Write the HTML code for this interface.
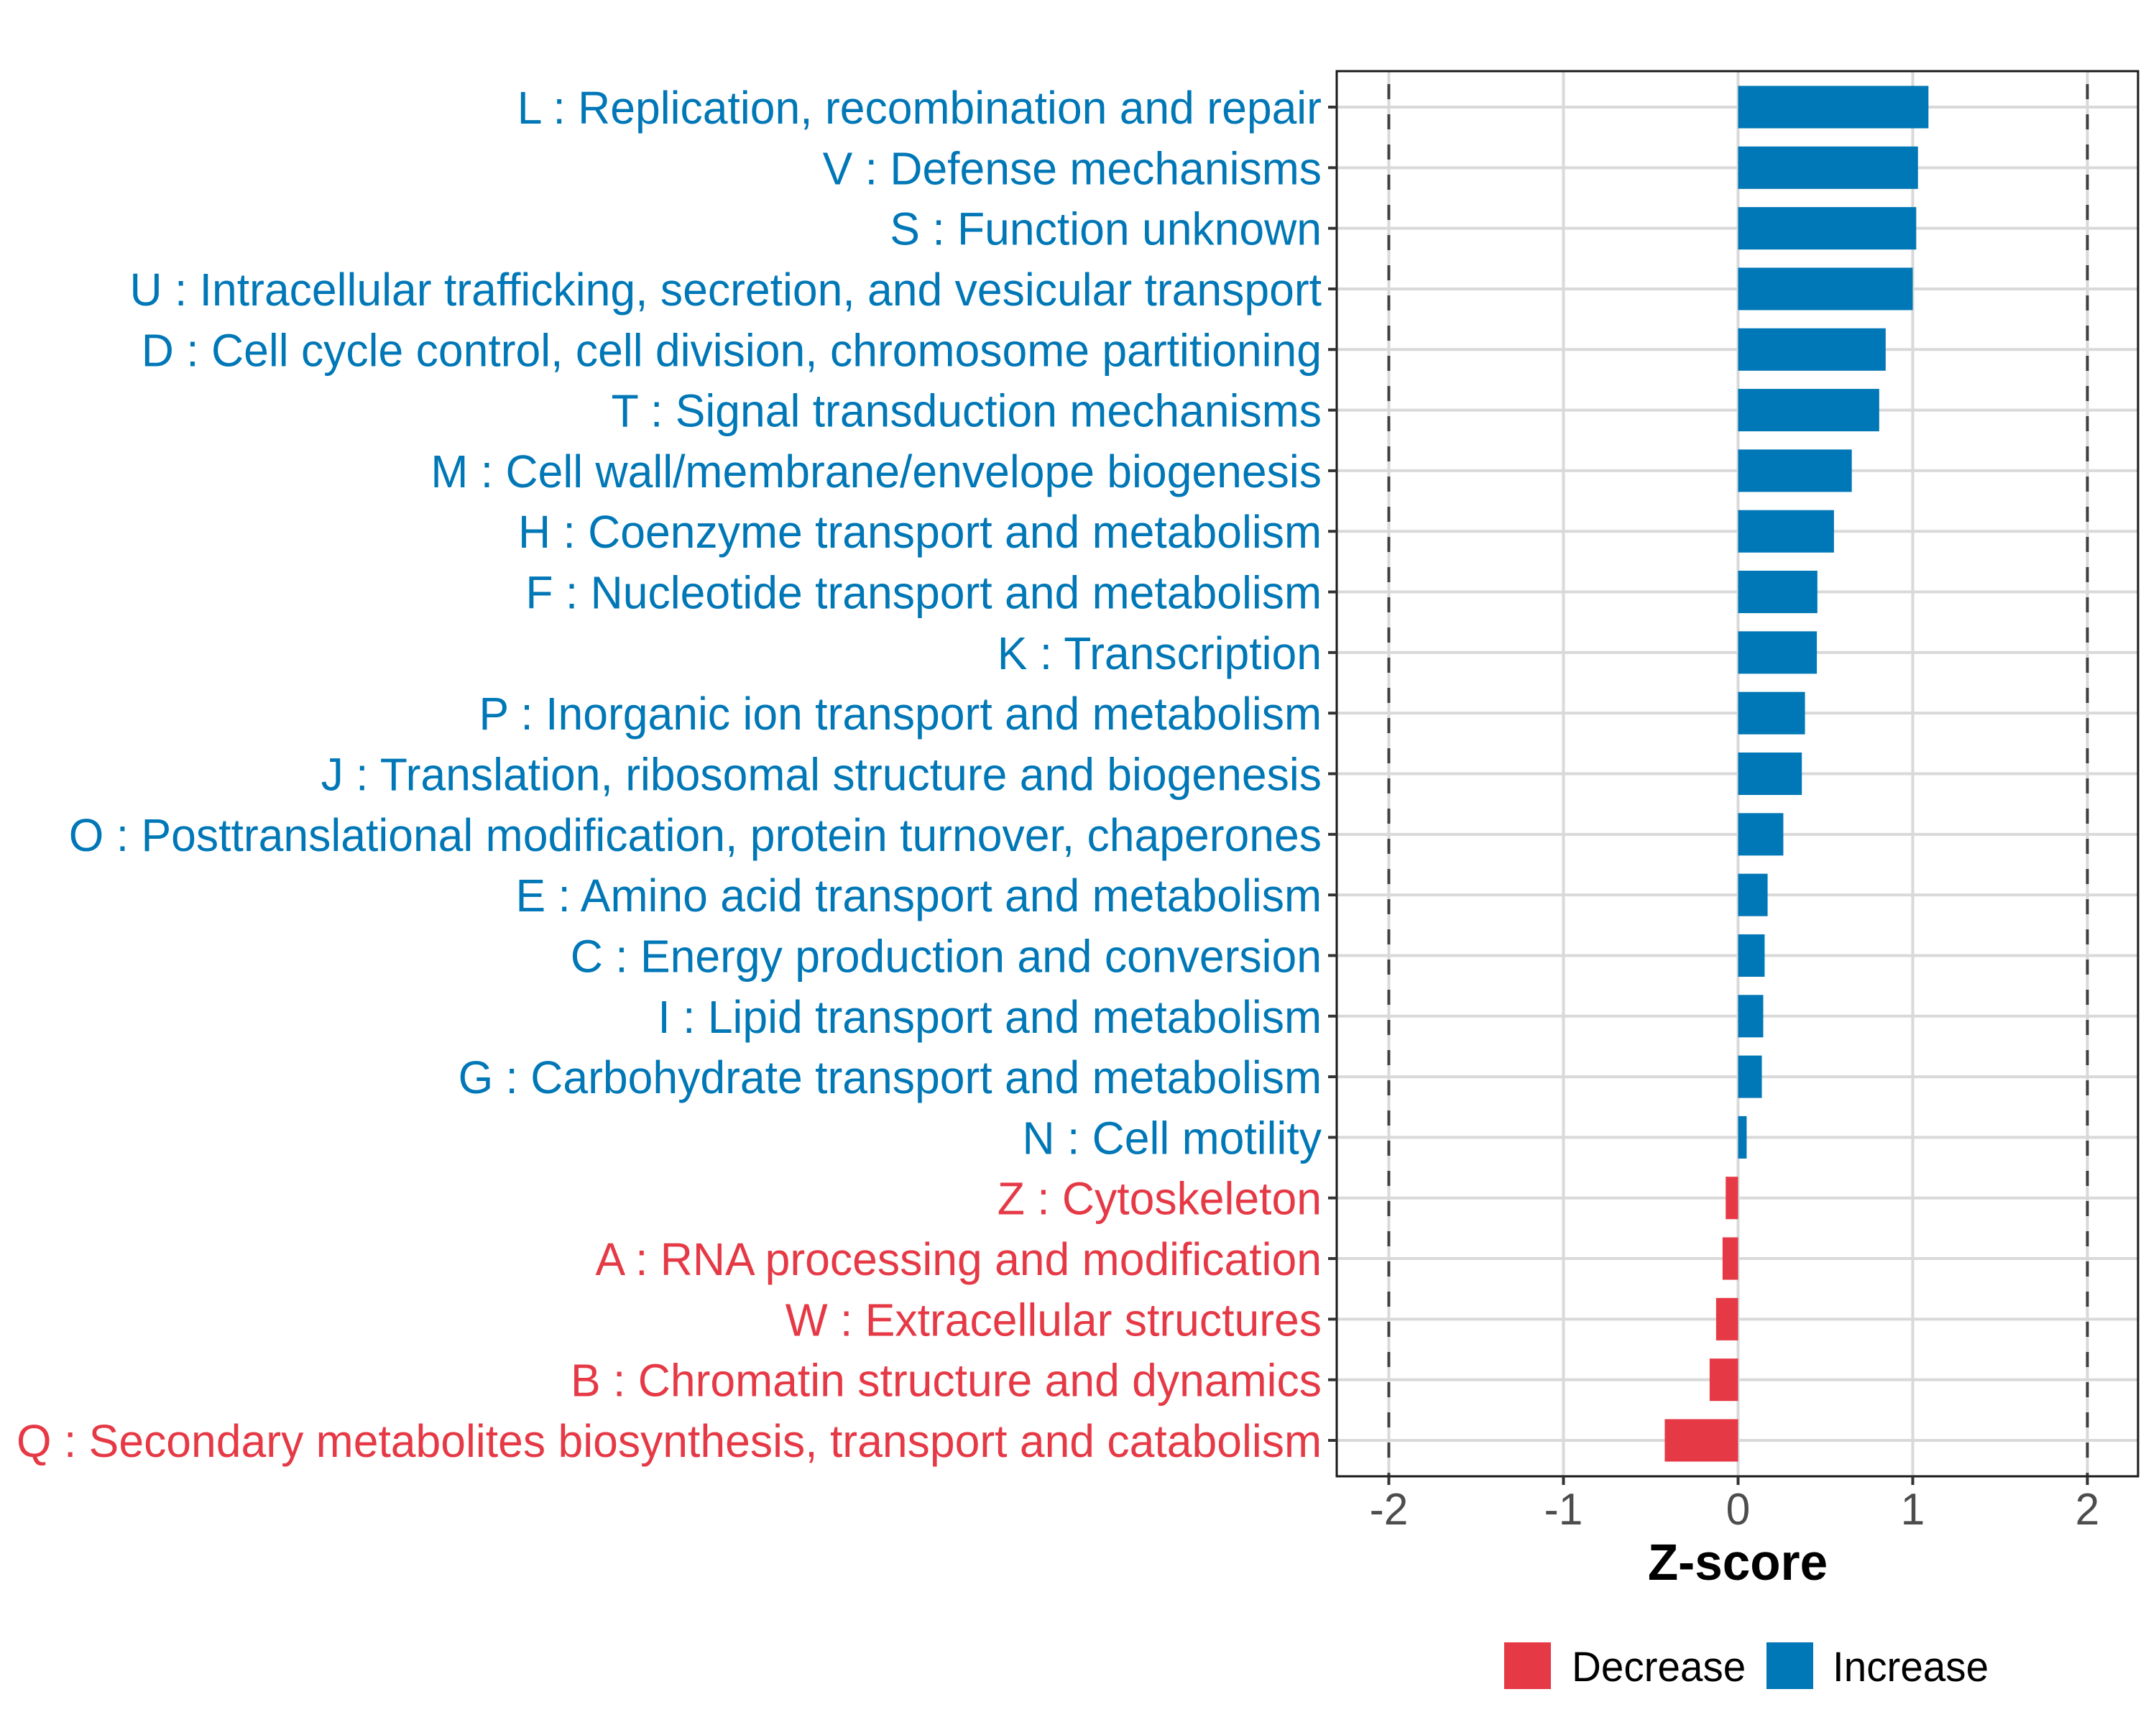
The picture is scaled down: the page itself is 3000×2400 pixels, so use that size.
<!DOCTYPE html>
<html><head><meta charset="utf-8">
<style>
html,body{margin:0;padding:0;background:#fff;}
svg{display:block;}
text{font-family:"Liberation Sans",Arial,sans-serif;}
</style></head>
<body>
<svg id="chart" width="3000" height="2400" viewBox="0 0 3000 2400" xmlns="http://www.w3.org/2000/svg">
  <rect x="0" y="0" width="3000" height="2400" fill="#fff"/>
  <g id="grid"></g>
  <g id="refs"></g>
  <g id="bars"></g>
  <rect x="1860" y="99" width="1115" height="1955" fill="none" stroke="#1a1a1a" stroke-width="3"/>
  <g id="yaxis"></g>
  <g id="xaxis"></g>
  <text id="xtitle" x="2418" y="2198" text-anchor="middle" font-size="71" font-weight="bold" fill="#000">Z-score</text>
  <g>
    <rect x="2093" y="2285" width="65" height="65" fill="#E63946"/>
    <text id="lg1" x="2187" y="2339" font-size="58" fill="#000">Decrease</text>
    <rect x="2458" y="2285" width="65" height="65" fill="#0077B6"/>
    <text id="lg2" x="2550" y="2339" font-size="58" fill="#000">Increase</text>
  </g>
</svg>
<script>
const categories = [
"L : Replication, recombination and repair",
"V : Defense mechanisms",
"S : Function unknown",
"U : Intracellular trafficking, secretion, and vesicular transport",
"D : Cell cycle control, cell division, chromosome partitioning",
"T : Signal transduction mechanisms",
"M : Cell wall/membrane/envelope biogenesis",
"H : Coenzyme transport and metabolism",
"F : Nucleotide transport and metabolism",
"K : Transcription",
"P : Inorganic ion transport and metabolism",
"J : Translation, ribosomal structure and biogenesis",
"O : Posttranslational modification, protein turnover, chaperones",
"E : Amino acid transport and metabolism",
"C : Energy production and conversion",
"I : Lipid transport and metabolism",
"G : Carbohydrate transport and metabolism",
"N : Cell motility",
"Z : Cytoskeleton",
"A : RNA processing and modification",
"W : Extracellular structures",
"B : Chromatin structure and dynamics",
"Q : Secondary metabolites biosynthesis, transport and catabolism"
];
const zscores = [1.09,1.03,1.02,1.0,0.845,0.808,0.651,0.549,0.454,0.451,0.383,0.365,0.259,0.169,0.152,0.144,0.136,0.049,-0.071,-0.089,-0.126,-0.163,-0.42];
const xTicks = [-2,-1,0,1,2];
const xTickLabels = ["-2","-1","0","1","2"];
const refLines = [-2,2];

const NS="http://www.w3.org/2000/svg";
const PL=1860,PR=2975,PT=99,PB=2054;
const X0=2418.5,UNIT=243;
function xs(v){return X0+v*UNIT;}
const n=categories.length;
const step=(2004-149)/(n-1);
function ys(i){return 149+i*step;}
const BLUE="#0077B6",RED="#E63946";
function mk(tag,attrs,parent){const e=document.createElementNS(NS,tag);for(const k in attrs)e.setAttribute(k,attrs[k]);parent.appendChild(e);return e;}

const grid=document.getElementById('grid');
xTicks.forEach((t,i)=>{
  const l=mk('line',{x1:xs(t),x2:xs(t),y1:PT,y2:PB,stroke:'#d9d9d9','stroke-width':4},grid);
  
  
});
categories.forEach((c,i)=>{
  const l=mk('line',{x1:PL,x2:PR,y1:ys(i),y2:ys(i),stroke:'#d9d9d9','stroke-width':4},grid);
  
  
});
const refs=document.getElementById('refs');
refLines.forEach(v=>{
  const l=mk('line',{x1:xs(v),x2:xs(v),y1:PT,y2:PB,stroke:'#404040','stroke-width':4,'stroke-dasharray':'21 21','stroke-dashoffset':'-18'},refs);
  
  
});
const bars=document.getElementById('bars');
const bh=0.7*step;
zscores.forEach((v,i)=>{
  const x=Math.min(xs(0),xs(v)),w=Math.abs(xs(v)-xs(0));
  const r=mk('rect',{x:x,y:ys(i)-bh/2,width:w,height:bh,fill:v<0?RED:BLUE},bars);
  
  
});
const yaxis=document.getElementById('yaxis');
const labels=[];
categories.forEach((c,i)=>{
  const tk=mk('line',{x1:PL-12,x2:PL,y1:ys(i),y2:ys(i),stroke:'#333','stroke-width':4},yaxis);
  
  
  const t=mk('text',{x:1839,y:ys(i)+23,'text-anchor':'end','font-size':64,fill:zscores[i]<0?RED:BLUE},yaxis);
  t.textContent=c;
  
  
  labels.push(t);
});
const xaxis=document.getElementById('xaxis');
const tlabels=[];
xTicks.forEach((t,i)=>{
  const tk=mk('line',{x1:xs(t),x2:xs(t),y1:PB,y2:PB+12,stroke:'#333','stroke-width':4},xaxis);
  
  
  const tx=mk('text',{x:xs(t),y:2121,'text-anchor':'middle','font-size':62,fill:'#4d4d4d'},xaxis);
  tx.textContent=xTickLabels[i];
  
  
  tlabels.push(tx);
});
// horizontal condensation to match reference text widths
const qNat=labels[n-1].getComputedTextLength();
const target=1839-23;
const c=target/qNat;
function squeeze(el){const w=el.getComputedTextLength();el.setAttribute('textLength',(w*c).toFixed(1));el.setAttribute('lengthAdjust','spacingAndGlyphs');}
labels.forEach(squeeze);
tlabels.forEach(squeeze);
['xtitle','lg1','lg2'].forEach(id=>squeeze(document.getElementById(id)));
</script>
</body></html>
